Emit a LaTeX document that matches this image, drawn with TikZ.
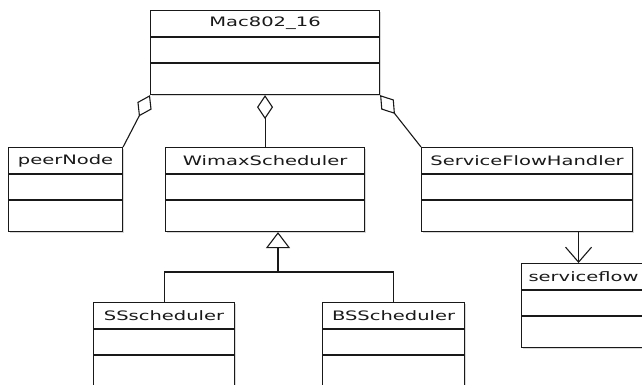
\documentclass[tikz,border=0pt]{standalone}
\usepackage{fontspec}
\setmainfont[FakeStretch=1.5]{DejaVu Sans}
\usetikzlibrary{arrows.meta, shadows}

\tikzset{
  classbox/.style={draw=black!90, line width=1.1pt, fill=white, anchor=north west,
    minimum height=84pt, inner sep=0pt,
    drop shadow={shadow xshift=1.2pt, shadow yshift=-1.2pt, opacity=0.3}},
  classname/.style={font=\fontsize{13}{15}\selectfont, text=black!90, inner sep=0pt},
  aggr/.style={{Diamond[open, length=24pt, width=16pt]}-},
  gen/.style={-{Triangle[open, length=16pt, width=24pt]}},
  assoc/.style={-{Straight Barb[length=15pt, width=26pt]}},
}

\begin{document}
\begin{tikzpicture}[x=1pt, y=-1pt, line width=1.1pt, draw=black!90]
    \fill [white] (0,0) rectangle (642,385);
    \useasboundingbox (0,0) rectangle (642,385);
    % class boxes: name / x / y / width / title
    \foreach \n/\x/\y/\w/\cname in {mac/150/10/229/Mac802\_16,
      peer/8/147/114/peerNode, wimax/165/147/199/WimaxScheduler,
      sfh/421/147/211/ServiceFlowHandler, flow/521/263/124/serviceflow,
      ss/93/302/141/SSscheduler, bs/322/302/142/BSScheduler}
    {
      \node [classbox, minimum width=\w] (\n) at (\x,\y) {};
      \node [classname] (\n-title) at ([yshift=-13.5pt]\n.north) {\cname};
      \draw ([yshift=-27pt]\n.north west) -- ([yshift=-27pt]\n.north east);
      \draw ([yshift=-53pt]\n.north west) -- ([yshift=-53pt]\n.north east);
    }
    % aggregations
    \draw [aggr] (mac.south west) -- (peer.north east);
    \draw [aggr] (mac.south) -- (wimax.north);
    \draw [aggr] (mac.south east) -- (sfh.north west);
    % inheritance
    \coordinate (fork) at (278,272);
    \draw (ss.north) |- (fork) -| (bs.north);
    \draw [gen] (fork) -- (fork |- wimax.south);
    % association
    \draw [assoc] ([xshift=51.5pt]sfh.south) -- ([xshift=51.5pt]sfh.south |- flow.north);
  \end{tikzpicture}
\end{document}
